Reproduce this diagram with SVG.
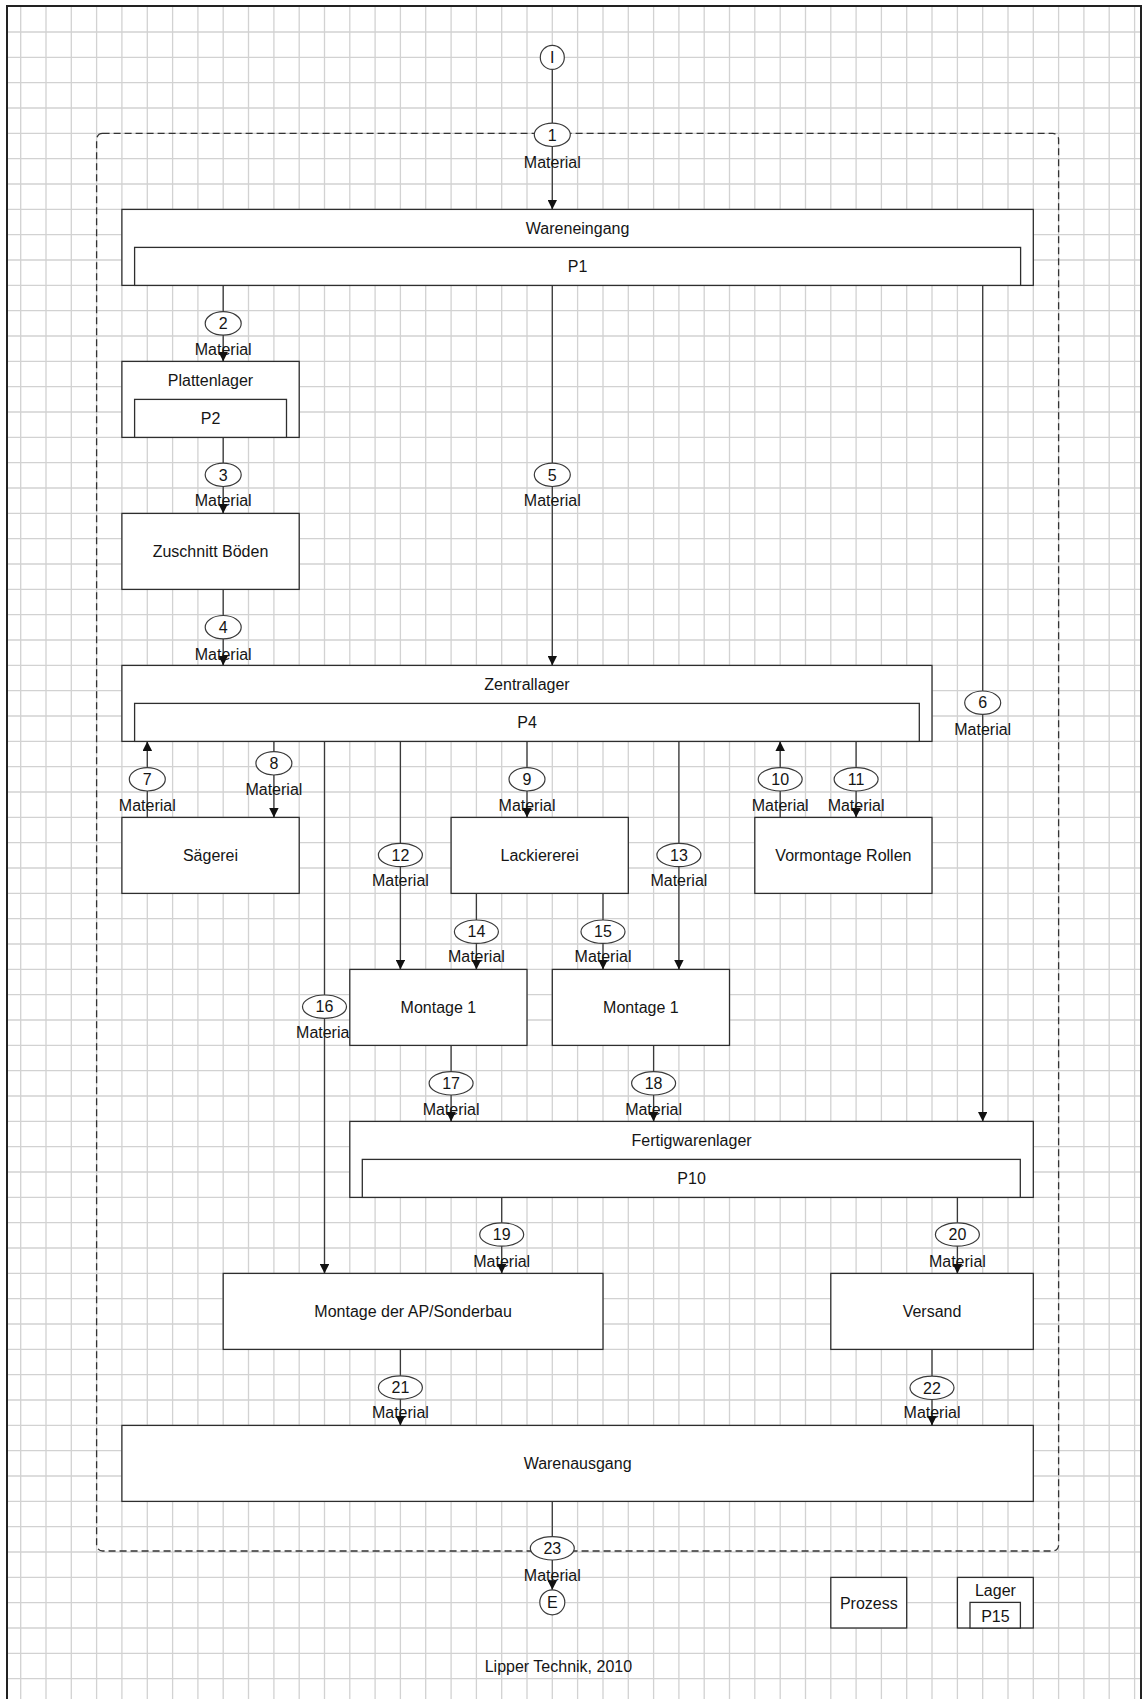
<svg xmlns="http://www.w3.org/2000/svg" width="1144" height="1699" viewBox="0 0 1144 1699">
<style>
text{font-family:"Liberation Sans",Arial,sans-serif;font-size:16px;fill:#151515;text-anchor:middle}
.grid{stroke:#d2d2d2;stroke-width:1.3;fill:none}
.box{fill:#fff;stroke:#2e2e2e;stroke-width:1.3}
.ln{stroke:#3a3a3a;stroke-width:1.3;fill:none}
.el{fill:#fff;stroke:#3a3a3a;stroke-width:1.2}
.dash{fill:none;stroke:#333;stroke-width:1.3;stroke-dasharray:7 4}
</style>
<defs>
<marker id="arr" viewBox="0 0 10 10" refX="10" refY="5" markerUnits="userSpaceOnUse" markerWidth="9.5" markerHeight="9.5" orient="auto">
<path d="M0,0 L10,5 L0,10 z" fill="#111"/>
</marker>
</defs>
<rect x="0" y="0" width="1144" height="1699" fill="#fff"/>
<path class="grid" d="M20.7,6V1699M46,6V1699M71.3,6V1699M96.6,6V1699M121.9,6V1699M147.3,6V1699M172.6,6V1699M197.9,6V1699M223.2,6V1699M248.5,6V1699M273.9,6V1699M299.2,6V1699M324.5,6V1699M349.8,6V1699M375.1,6V1699M400.4,6V1699M425.7,6V1699M451.1,6V1699M476.4,6V1699M501.7,6V1699M527,6V1699M552.3,6V1699M577.6,6V1699M603,6V1699M628.3,6V1699M653.6,6V1699M678.9,6V1699M704.2,6V1699M729.5,6V1699M754.8,6V1699M780.2,6V1699M805.5,6V1699M830.8,6V1699M856.1,6V1699M881.4,6V1699M906.7,6V1699M932,6V1699M957.4,6V1699M982.7,6V1699M1008,6V1699M1033.3,6V1699M1058.6,6V1699M1083.9,6V1699M1109.2,6V1699M1134.6,6V1699
M7,32H1141M7,57.4H1141M7,82.7H1141M7,108H1141M7,133.4H1141M7,158.7H1141M7,184H1141M7,209.4H1141M7,234.7H1141M7,260H1141M7,285.4H1141M7,310.7H1141M7,336H1141M7,361.4H1141M7,386.7H1141M7,412H1141M7,437.4H1141M7,462.7H1141M7,488H1141M7,513.4H1141M7,538.7H1141M7,564H1141M7,589.4H1141M7,614.7H1141M7,640H1141M7,665.4H1141M7,690.7H1141M7,716H1141M7,741.4H1141M7,766.7H1141M7,792H1141M7,817.4H1141M7,842.7H1141M7,868H1141M7,893.4H1141M7,918.7H1141M7,944H1141M7,969.4H1141M7,994.7H1141M7,1020H1141M7,1045.4H1141M7,1070.7H1141M7,1096H1141M7,1121.4H1141M7,1146.7H1141M7,1172H1141M7,1197.4H1141M7,1222.7H1141M7,1248H1141M7,1273.4H1141M7,1298.7H1141M7,1324H1141M7,1349.4H1141M7,1374.7H1141M7,1400H1141M7,1425.4H1141M7,1450.7H1141M7,1476H1141M7,1501.4H1141M7,1526.7H1141M7,1552H1141M7,1577.4H1141M7,1602.7H1141M7,1628H1141M7,1653.4H1141M7,1678.7H1141"/>
<rect x="7" y="6" width="1134" height="1710" fill="none" stroke="#222" stroke-width="2"/>
<rect id="boundary" class="dash" x="96.6" y="133.4" width="962" height="1417.6" rx="6"/>

<g id="connectors">
<g class="lines">
<path class="ln" d="M552.3,69.4V209.4"/>
<path class="ln" d="M223.2,285.4V361.4"/>
<path class="ln" d="M223.2,437.4V513.4"/>
<path class="ln" d="M223.2,589.4V665.4"/>
<path class="ln" d="M552.3,285.4V665.4"/>
<path class="ln" d="M982.7,285.4V1121.4"/>
<path class="ln" d="M147.3,817.4V741.4"/>
<path class="ln" d="M273.9,741.4V817.4"/>
<path class="ln" d="M527,741.4V817.4"/>
<path class="ln" d="M780.2,817.4V741.4"/>
<path class="ln" d="M856.1,741.4V817.4"/>
<path class="ln" d="M400.4,741.4V969.4"/>
<path class="ln" d="M678.9,741.4V969.4"/>
<path class="ln" d="M476.4,893.4V969.4"/>
<path class="ln" d="M603,893.4V969.4"/>
<path class="ln" d="M324.5,741.4V1273.4"/>
<path class="ln" d="M451.1,1045.4V1121.4"/>
<path class="ln" d="M653.6,1045.4V1121.4"/>
<path class="ln" d="M501.7,1197.4V1273.4"/>
<path class="ln" d="M957.4,1197.4V1273.4"/>
<path class="ln" d="M400.4,1349.4V1425.4"/>
<path class="ln" d="M932,1349.4V1425.4"/>
<path class="ln" d="M552.3,1501.4V1589.8"/>
</g>
<g class="labels">
<ellipse class="el" cx="552.3" cy="134.8" rx="18" ry="11.7"/><text x="552.3" y="140.5">1</text>
<ellipse class="el" cx="223.2" cy="323.4" rx="18" ry="11.7"/><text x="223.2" y="329.1">2</text>
<ellipse class="el" cx="223.2" cy="474.8" rx="18" ry="11.7"/><text x="223.2" y="480.5">3</text>
<ellipse class="el" cx="223.2" cy="627.2" rx="18" ry="11.7"/><text x="223.2" y="632.9">4</text>
<ellipse class="el" cx="552.3" cy="474.8" rx="18" ry="11.7"/><text x="552.3" y="480.5">5</text>
<ellipse class="el" cx="982.7" cy="702.7" rx="18" ry="11.7"/><text x="982.7" y="708.4">6</text>
<ellipse class="el" cx="147.3" cy="779.3" rx="18" ry="11.7"/><text x="147.3" y="785">7</text>
<ellipse class="el" cx="273.9" cy="763.3" rx="18" ry="11.7"/><text x="273.9" y="769">8</text>
<ellipse class="el" cx="527" cy="779.3" rx="18" ry="11.7"/><text x="527" y="785">9</text>
<ellipse class="el" cx="780.2" cy="779.3" rx="22" ry="11.7"/><text x="780.2" y="785">10</text>
<ellipse class="el" cx="856.1" cy="779.3" rx="22" ry="11.7"/><text x="856.1" y="785">11</text>
<ellipse class="el" cx="400.4" cy="855" rx="22" ry="11.7"/><text x="400.4" y="860.7">12</text>
<ellipse class="el" cx="678.9" cy="855" rx="22" ry="11.7"/><text x="678.9" y="860.7">13</text>
<ellipse class="el" cx="476.4" cy="931.7" rx="22" ry="11.7"/><text x="476.4" y="937.4">14</text>
<ellipse class="el" cx="603" cy="931.7" rx="22" ry="11.7"/><text x="603" y="937.4">15</text>
<ellipse class="el" cx="324.5" cy="1006.7" rx="22" ry="11.7"/><text x="324.5" y="1012.4">16</text>
<ellipse class="el" cx="451.1" cy="1083.3" rx="22" ry="11.7"/><text x="451.1" y="1089">17</text>
<ellipse class="el" cx="653.6" cy="1083.3" rx="22" ry="11.7"/><text x="653.6" y="1089">18</text>
<ellipse class="el" cx="501.7" cy="1234.5" rx="22" ry="11.7"/><text x="501.7" y="1240.2">19</text>
<ellipse class="el" cx="957.4" cy="1234.5" rx="22" ry="11.7"/><text x="957.4" y="1240.2">20</text>
<ellipse class="el" cx="400.4" cy="1387.5" rx="22" ry="11.7"/><text x="400.4" y="1393.2">21</text>
<ellipse class="el" cx="932" cy="1387.8" rx="22" ry="11.7"/><text x="932" y="1393.5">22</text>
<ellipse class="el" cx="552.3" cy="1548.3" rx="22" ry="11.7"/><text x="552.3" y="1554">23</text>
<text x="552.3" y="168">Material</text>
<text x="223.2" y="355">Material</text>
<text x="223.2" y="506.3">Material</text>
<text x="223.2" y="659.6">Material</text>
<text x="552.3" y="506.3">Material</text>
<text x="982.7" y="735">Material</text>
<text x="147.3" y="811">Material</text>
<text x="273.9" y="795">Material</text>
<text x="527" y="811">Material</text>
<text x="780.2" y="811">Material</text>
<text x="856.1" y="811">Material</text>
<text x="400.4" y="886.3">Material</text>
<text x="678.9" y="886.3">Material</text>
<text x="476.4" y="962.3">Material</text>
<text x="603" y="962.3">Material</text>
<text x="324.5" y="1038">Material</text>
<text x="451.1" y="1114.6">Material</text>
<text x="653.6" y="1114.6">Material</text>
<text x="501.7" y="1266.6">Material</text>
<text x="957.4" y="1266.6">Material</text>
<text x="400.4" y="1418">Material</text>
<text x="932" y="1418">Material</text>
<text x="552.3" y="1580.6">Material</text>
</g>
<g class="heads">
<path class="ln" d="M552.3,200V209.4" marker-end="url(#arr)"/>
<path class="ln" d="M223.2,352V361.4" marker-end="url(#arr)"/>
<path class="ln" d="M223.2,504V513.4" marker-end="url(#arr)"/>
<path class="ln" d="M223.2,656V665.4" marker-end="url(#arr)"/>
<path class="ln" d="M552.3,656V665.4" marker-end="url(#arr)"/>
<path class="ln" d="M982.7,1112V1121.4" marker-end="url(#arr)"/>
<path class="ln" d="M147.3,751V741.4" marker-end="url(#arr)"/>
<path class="ln" d="M273.9,808V817.4" marker-end="url(#arr)"/>
<path class="ln" d="M527,808V817.4" marker-end="url(#arr)"/>
<path class="ln" d="M780.2,751V741.4" marker-end="url(#arr)"/>
<path class="ln" d="M856.1,808V817.4" marker-end="url(#arr)"/>
<path class="ln" d="M400.4,960V969.4" marker-end="url(#arr)"/>
<path class="ln" d="M678.9,960V969.4" marker-end="url(#arr)"/>
<path class="ln" d="M476.4,960V969.4" marker-end="url(#arr)"/>
<path class="ln" d="M603,960V969.4" marker-end="url(#arr)"/>
<path class="ln" d="M324.5,1264V1273.4" marker-end="url(#arr)"/>
<path class="ln" d="M451.1,1112V1121.4" marker-end="url(#arr)"/>
<path class="ln" d="M653.6,1112V1121.4" marker-end="url(#arr)"/>
<path class="ln" d="M501.7,1264V1273.4" marker-end="url(#arr)"/>
<path class="ln" d="M957.4,1264V1273.4" marker-end="url(#arr)"/>
<path class="ln" d="M400.4,1416V1425.4" marker-end="url(#arr)"/>
<path class="ln" d="M932,1416V1425.4" marker-end="url(#arr)"/>
<path class="ln" d="M552.3,1580V1589.8" marker-end="url(#arr)"/>
</g>
</g>

<g id="start"><circle class="el" cx="552.3" cy="57.4" r="12"/><text x="552.3" y="63.1">I</text></g>
<g id="end"><circle class="el" cx="552.3" cy="1602.3" r="12.5"/><text x="552.3" y="1608">E</text></g>

<g id="wareneingang"><rect class="box" x="121.9" y="209.4" width="911.4" height="76"/><rect class="box" x="134.6" y="247.4" width="886" height="38"/><text x="577.6" y="234">Wareneingang</text><text x="577.6" y="272">P1</text></g>
<g id="plattenlager"><rect class="box" x="121.9" y="361.4" width="177.3" height="76"/><rect class="box" x="134.6" y="399.4" width="151.9" height="38"/><text x="210.5" y="386">Plattenlager</text><text x="210.5" y="424">P2</text></g>
<g id="zuschnitt"><rect class="box" x="121.9" y="513.4" width="177.3" height="76"/><text x="210.5" y="557">Zuschnitt Böden</text></g>
<g id="zentrallager"><rect class="box" x="121.9" y="665.4" width="810.1" height="76"/><rect class="box" x="134.6" y="703.4" width="784.7" height="38"/><text x="527" y="690">Zentrallager</text><text x="527" y="728">P4</text></g>
<g id="saegerei"><rect class="box" x="121.9" y="817.4" width="177.3" height="76"/><text x="210.5" y="861">Sägerei</text></g>
<g id="lackiererei"><rect class="box" x="451.1" y="817.4" width="177.2" height="76"/><text x="539.7" y="861">Lackiererei</text></g>
<g id="vormontage"><rect class="box" x="754.8" y="817.4" width="177.2" height="76"/><text x="843.4" y="861">Vormontage Rollen</text></g>
<g id="montage1a"><rect class="box" x="349.8" y="969.4" width="177.2" height="76"/><text x="438.4" y="1013">Montage 1</text></g>
<g id="montage1b"><rect class="box" x="552.3" y="969.4" width="177.2" height="76"/><text x="640.9" y="1013">Montage 1</text></g>
<g id="fertigwarenlager"><rect class="box" x="349.8" y="1121.4" width="683.5" height="76"/><rect class="box" x="362.3" y="1159.4" width="658" height="38"/><text x="691.6" y="1146">Fertigwarenlager</text><text x="691.6" y="1184">P10</text></g>
<g id="montageap"><rect class="box" x="223.2" y="1273.4" width="379.8" height="76"/><text x="413.1" y="1317">Montage der AP/Sonderbau</text></g>
<g id="versand"><rect class="box" x="830.8" y="1273.4" width="202.5" height="76"/><text x="932" y="1317">Versand</text></g>
<g id="warenausgang"><rect class="box" x="121.9" y="1425.4" width="911.4" height="76"/><text x="577.6" y="1469">Warenausgang</text></g>

<g id="legend-prozess"><rect class="box" x="830.8" y="1577.4" width="75.9" height="50.6"/><text x="868.8" y="1609">Prozess</text></g>
<g id="legend-lager"><rect class="box" x="957.4" y="1577.4" width="75.9" height="50.6"/><rect class="box" x="970" y="1602.4" width="50.4" height="25.6"/><text x="995.4" y="1596.3">Lager</text><text x="995.4" y="1621.6">P15</text></g>
<text id="caption" x="558.4" y="1672">Lipper Technik, 2010</text>
</svg>
